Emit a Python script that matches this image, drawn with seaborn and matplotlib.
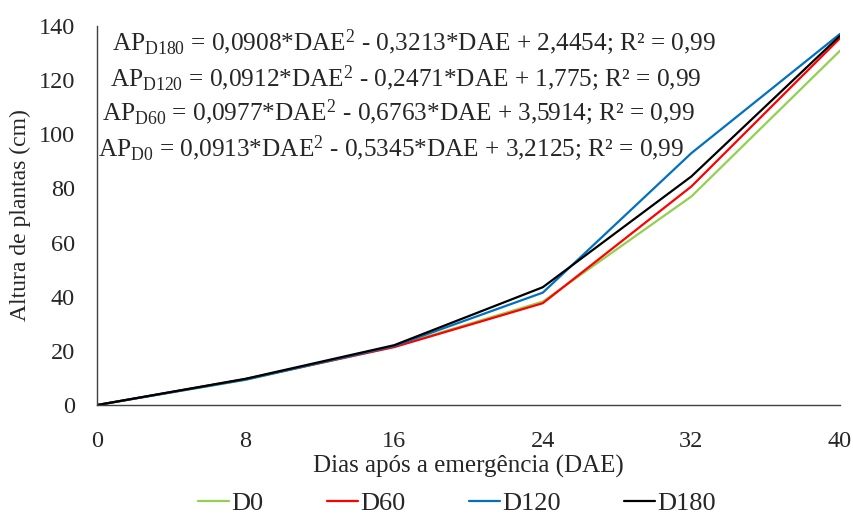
import matplotlib
matplotlib.use("Agg")
import matplotlib.pyplot as plt
import seaborn as sns
import pandas as pd

# dias apos a emergencia
dae = [0, 8, 16, 24, 32, 40]
# altura de plantas (cm) por tratamento
d0 = [0, 9.3, 21.6, 38.2, 77.0, 130.8]
d60 = [0, 9.6, 21.4, 37.6, 80.7, 135.4]
d120 = [0, 9.4, 21.8, 41.5, 93.0, 137.0]
d180 = [0, 9.7, 22.1, 43.5, 84.4, 136.3]
series = ["D0", "D60", "D120", "D180"]

equations = [
    r"AP$_{\mathrm{D180}}$ = 0,0908*DAE$^{\mathrm{2}}$ - 0,3213*DAE + 2,4454; R² = 0,99",
    r"AP$_{\mathrm{D120}}$ = 0,0912*DAE$^{\mathrm{2}}$ - 0,2471*DAE + 1,775; R² = 0,99",
    r"AP$_{\mathrm{D60}}$ = 0,0977*DAE$^{\mathrm{2}}$ - 0,6763*DAE + 3,5914; R² = 0,99",
    r"AP$_{\mathrm{D0}}$ = 0,0913*DAE$^{\mathrm{2}}$ - 0,5345*DAE + 3,2125; R² = 0,99",
]

df = pd.DataFrame({
    "DAE": dae * 4,
    "altura": d0 + d60 + d120 + d180,
    "trat": [s for s in series for _ in dae],
})

sns.set_style("white")
plt.rcParams["font.family"] = ["Liberation Serif", "DejaVu Serif"]
plt.rcParams["mathtext.fontset"] = "custom"
plt.rcParams["mathtext.rm"] = "Liberation Serif"
plt.rcParams["mathtext.it"] = "Liberation Serif:italic"

cores = {"D0": "#92D050", "D60": "#FF0000", "D120": "#0070C0", "D180": "#000000"}

fig = plt.figure(figsize=(8.54, 5.16), dpi=100)
ax = fig.add_axes([0.1136, 0.215, 0.87, 0.735])

sns.lineplot(data=df, x="DAE", y="altura", hue="trat", palette=cores,
             linewidth=1.6, ax=ax, legend=False)

ax.set_xlim(0, 40)
ax.set_ylim(0, 140)
ax.set_xticks(dae)
ax.set_yticks(range(0, 141, 20))
ax.tick_params(direction="in", length=7, width=1, labelsize=17.5)
ax.tick_params(axis="y", pad=16)
ax.tick_params(axis="x", pad=19)
for s in ["top", "right"]:
    ax.spines[s].set_visible(False)
for s in ["left", "bottom"]:
    ax.spines[s].set_color("#404040")
    ax.spines[s].set_linewidth(1)
ax.tick_params(color="#404040")

ax.set_xlabel("Dias após a emergência (DAE)", fontsize=18, labelpad=2)
ax.set_ylabel("Altura de plantas (cm)", fontsize=17, labelpad=5)

# equacoes de regressao
pos = [(112, 42), (110, 78), (102, 112), (98, 148)]
for (px, py), txt in zip(pos, equations):
    fig.text(px / 854, 1 - py / 516, txt, fontsize=18.2, va="center", ha="left")

handles = [plt.Line2D([], [], color=cores[s], linewidth=1.6) for s in series]
fig.legend(handles, series, loc="center", bbox_to_anchor=(0.535, 0.025),
           ncol=4, frameon=False, fontsize=19, handlelength=1.17,
           handletextpad=0.08, columnspacing=2.42, borderpad=0)

fig.savefig("out.png", dpi=100)
